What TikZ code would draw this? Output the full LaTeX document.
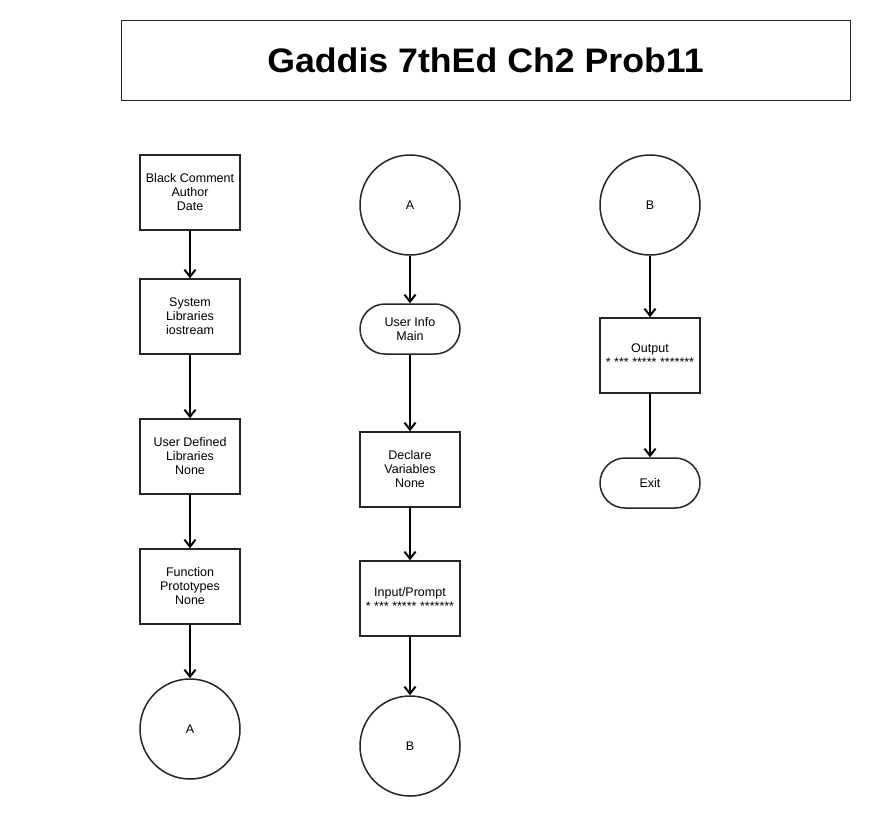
\documentclass[tikz,border=0pt]{standalone}
\usepackage{fontspec}
\setmainfont{Liberation Sans}
\usetikzlibrary{arrows.meta}
\begin{document}
\begin{tikzpicture}[x=1pt,y=-1pt,
  every node/.style={font=\fontsize{12.5}{14}\selectfont, align=center, inner sep=0pt},
  procbox/.style={draw=black!85, line width=1.5pt, minimum width=100pt, minimum height=75pt},
  conn/.style={draw=black!85, line width=1.5pt, circle, minimum size=100pt},
  term/.style={draw=black!85, line width=1.5pt, rounded corners=25pt, minimum width=100pt, minimum height=50pt},
  flow/.style={line width=2pt, -{Straight Barb[length=7pt,width=11pt,line width=2pt]}}]
\useasboundingbox (0,0) rectangle (870,817);
\fill[white] (0,0) rectangle (870,817);
\node[draw=black!85, line width=1pt, minimum width=729pt, minimum height=80pt, font=\fontsize{34}{36}\selectfont\bfseries\addfontfeature{FakeStretch=1.05}] (title) at (485.5,60) {Gaddis 7thEd Ch2 Prob11};
% left column
\node[procbox] (b1) at (190,192.5) {Black Comment\\Author\\Date};
\node[procbox] (b2) at (190,316.5) {System\\Libraries\\iostream};
\node[procbox] (b3) at (190,456.5) {User Defined\\Libraries\\None};
\node[procbox] (b4) at (190,586.5) {Function\\Prototypes\\None};
\node[conn] (a1) at (190,729) {A};
% middle column
\node[conn] (a2) at (410,205) {A};
\node[term] (t1) at (410,329) {User Info\\Main};
\node[procbox] (b5) at (410,469.5) {Declare\\Variables\\None};
\node[procbox] (b6) at (410,598.5) {Input/Prompt\\[0pt]{\fontsize{12.5}{12}\selectfont * *** ***** *******}};
\node[conn] (c1) at (410,746) {B};
% right column
\node[conn] (c2) at (650,205) {B};
\node[procbox] (b7) at (650,355.5) {Output\\[0pt]{\fontsize{12.5}{12}\selectfont * *** ***** *******}};
\node[term] (t2) at (650,483) {Exit};
% connectors
\draw[flow] (b1) -- (b2);
\draw[flow] (b2) -- (b3);
\draw[flow] (b3) -- (b4);
\draw[flow] (b4) -- (a1);
\draw[flow] (a2) -- (t1);
\draw[flow] (t1) -- (b5);
\draw[flow] (b5) -- (b6);
\draw[flow] (b6) -- (c1);
\draw[flow] (c2) -- (b7);
\draw[flow] (b7) -- (t2);
\end{tikzpicture}
\end{document}
